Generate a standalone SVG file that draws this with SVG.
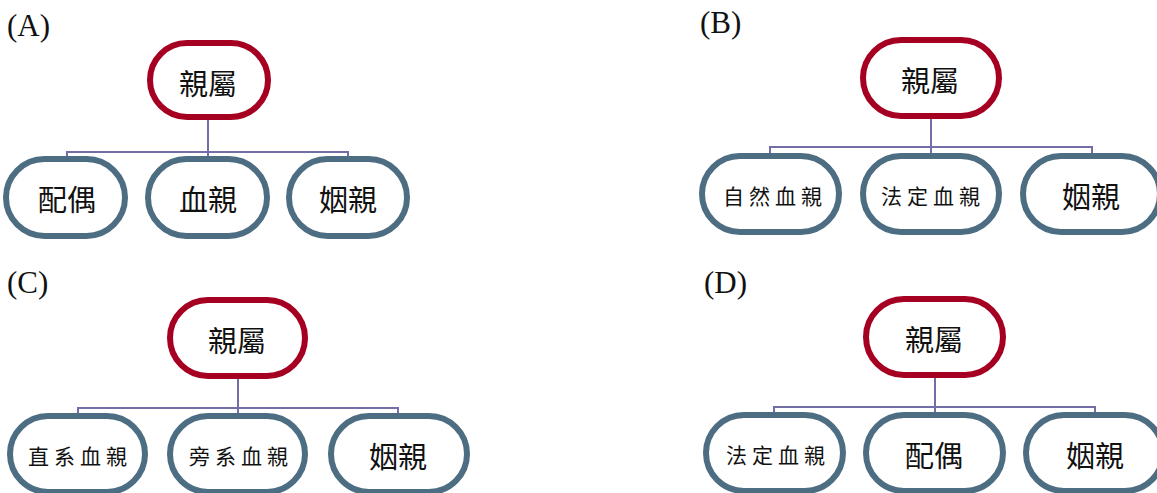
<svg xmlns="http://www.w3.org/2000/svg" width="1157" height="493" viewBox="0 0 1157 493">
<style>
.bg{fill:#ffffff}
.root{fill:#ffffff;stroke:#A50021;stroke-width:6}
.child{fill:#ffffff;stroke:#4D6D82;stroke-width:6}
.conn{fill:none;stroke:#726FA8;stroke-width:2}
.lbl{font-family:"Liberation Serif","Times New Roman",serif;font-size:31px;fill:#111111}
.t{font-family:"Noto Sans CJK TC","Noto Sans CJK SC",sans-serif;font-size:29px;fill:#111111;text-anchor:middle;dominant-baseline:central}
.t4{font-family:"Noto Sans CJK TC","Noto Sans CJK SC",sans-serif;font-size:21px;letter-spacing:5px;fill:#111111;text-anchor:middle;dominant-baseline:central}
</style>
<rect class="bg" x="0" y="0" width="1157" height="493"/>
<g id="labels">
<text class="lbl" x="7" y="36">(A)</text>
<text class="lbl" x="700" y="33">(B)</text>
<text class="lbl" x="7" y="293">(C)</text>
<text class="lbl" x="704" y="293">(D)</text>
</g>
<g id="connectors">
<path class="conn" d="M208 120 V152 M67 157 V152 H348 V157 M208 152 V157"/>
<path class="conn" d="M931 117 V147 M770 154 V147 H1092 V154 M931 147 V154"/>
<path class="conn" d="M238 377 V408 M78 414 V408 H398 V414 M238 408 V414"/>
<path class="conn" d="M935 376 V407 M774 413 V407 H1095 V413 M935 407 V413"/>
</g>
<g id="A-root"><rect class="root" x="150" y="43" width="118" height="74" rx="37"/><text class="t" x="208" y="82">親屬</text></g>
<g id="A-c1"><rect class="child" x="6" y="159" width="119" height="77" rx="38.5"/><text class="t" x="67" y="198">配偶</text></g>
<g id="A-c2"><rect class="child" x="148" y="159" width="119" height="77" rx="38.5"/><text class="t" x="208" y="198">血親</text></g>
<g id="A-c3"><rect class="child" x="289" y="159" width="118" height="77" rx="38.5"/><text class="t" x="348" y="198">姻親</text></g>

<g id="B-root"><rect class="root" x="863" y="40" width="136" height="76" rx="38"/><text class="t" x="930" y="79">親屬</text></g>
<g id="B-c1"><rect class="child" x="702" y="156" width="137" height="76" rx="38"/><text class="t4" x="775" y="195">自然血親</text></g>
<g id="B-c2"><rect class="child" x="863" y="156" width="136" height="76" rx="38"/><text class="t4" x="933" y="195">法定血親</text></g>
<g id="B-c3"><rect class="child" x="1023" y="156" width="137" height="76" rx="38"/><text class="t" x="1091" y="195">姻親</text></g>

<g id="C-root"><rect class="root" x="170" y="300" width="135" height="76" rx="38"/><text class="t" x="237" y="339">親屬</text></g>
<g id="C-c1"><rect class="child" x="10" y="416" width="135" height="76" rx="38"/><text class="t4" x="80" y="455">直系血親</text></g>
<g id="C-c2"><rect class="child" x="170" y="416" width="135" height="76" rx="38"/><text class="t4" x="241" y="455">旁系血親</text></g>
<g id="C-c3"><rect class="child" x="331" y="416" width="136" height="76" rx="38"/><text class="t" x="398" y="455">姻親</text></g>

<g id="D-root"><rect class="root" x="866" y="299" width="137" height="76" rx="38"/><text class="t" x="934" y="338">親屬</text></g>
<g id="D-c1"><rect class="child" x="706" y="415" width="137" height="76" rx="38"/><text class="t4" x="778" y="454">法定血親</text></g>
<g id="D-c2"><rect class="child" x="866" y="415" width="137" height="76" rx="38"/><text class="t" x="934" y="454">配偶</text></g>
<g id="D-c3"><rect class="child" x="1026" y="415" width="137" height="76" rx="38"/><text class="t" x="1095" y="454">姻親</text></g>
</svg>
